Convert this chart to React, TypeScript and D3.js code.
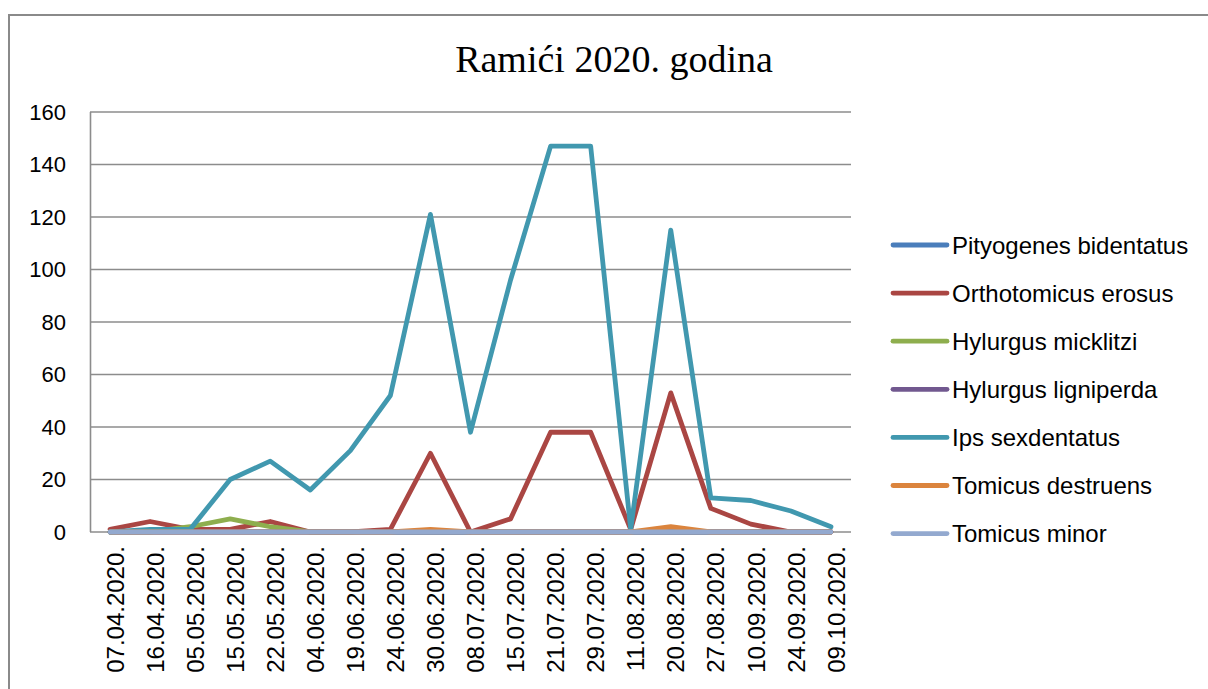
import React from "react";
import * as d3 from "d3";

const categories = ["07.04.2020.", "16.04.2020.", "05.05.2020.", "15.05.2020.", "22.05.2020.", "04.06.2020.", "19.06.2020.", "24.06.2020.", "30.06.2020.", "08.07.2020.", "15.07.2020.", "21.07.2020.", "29.07.2020.", "11.08.2020.", "20.08.2020.", "27.08.2020.", "10.09.2020.", "24.09.2020.", "09.10.2020."];

const pityogenes = [0, 0, 0, 0, 0, 0, 0, 0, 0, 0, 0, 0, 0, 0, 0, 0, 0, 0, 0];
const orthotomicus = [1, 4, 1, 1, 4, 0, 0, 1, 30, 0, 5, 38, 38, 1, 53, 9, 3, 0, 0];
const hylurgusMick = [0, 0, 2, 5, 2, 0, 0, 0, 0, 0, 0, 0, 0, 0, 0, 0, 0, 0, 0];
const hylurgusLign = [0, 0, 0, 0, 0, 0, 0, 0, 0, 0, 0, 0, 0, 0, 0, 0, 0, 0, 0];
const ips = [0, 1, 1, 20, 27, 16, 31, 52, 121, 38, 96, 147, 147, 1, 115, 13, 12, 8, 2];
const tomicusDes = [0, 0, 0, 0, 0, 0, 0, 0, 1, 0, 0, 0, 0, 0, 2, 0, 0, 0, 0];
const tomicusMin = [0, 0, 0, 0, 0, 0, 0, 0, 0, 0, 0, 0, 0, 0, 0, 0, 0, 0, 0];

const yTicks = [0, 20, 40, 60, 80, 100, 120, 140, 160];

const seriesNames = ["Pityogenes bidentatus", "Orthotomicus erosus", "Hylurgus micklitzi", "Hylurgus ligniperda", "Ips sexdentatus", "Tomicus destruens", "Tomicus minor"];
const seriesValues = [pityogenes, orthotomicus, hylurgusMick, hylurgusLign, ips, tomicusDes, tomicusMin];
const seriesColors = ["#4A7EBB", "#AA4643", "#8EAE4E", "#71588F", "#4198AF", "#DB843D", "#93A9CF"];

export default function App() {
  const W = 1208, H = 689;
  const left = 90, right = 851, top = 112, bottom = 532;
  const x = d3.scaleBand().domain(categories).range([left, right]);
  const y = d3.scaleLinear().domain([0, 160]).range([bottom, top]);
  const cx = (c: string) => (x(c) as number) + x.bandwidth() / 2;
  const line = d3.line<number>().x((_, i) => cx(categories[i])).y((v) => y(v));
  const sans = "'Liberation Sans', Arial, sans-serif";
  const legendY = (i: number) => 245 + i * 48.1;

  return (
    <svg width={W} height={H} style={{ position: "absolute", left: 0, top: 0, background: "#fff" }}>
      <rect x={9} y={15} width={W + 20} height={H + 20} fill="#fff" stroke="#8a8a8a" strokeWidth={2} />
      <text x={614} y={72} textAnchor="middle" fontFamily="'Liberation Serif', 'Times New Roman', serif" fontSize={38} fill="#000">
        Ramići 2020. godina
      </text>
      {yTicks.map((t) => (
        <g key={t}>
          <line x1={left} x2={right} y1={y(t)} y2={y(t)} stroke="#8c8c8c" strokeWidth={1.6} />
          <text x={66} y={y(t)} dy="0.35em" textAnchor="end" fontFamily={sans} fontSize={22} fill="#000">
            {t}
          </text>
        </g>
      ))}
      <line x1={left + 0.5} x2={left + 0.5} y1={top} y2={bottom} stroke="#8c8c8c" strokeWidth={1.6} />
      {categories.map((c) => (
        <text key={c} transform={`translate(${cx(c) + 5},546) rotate(-90)`} textAnchor="end" dy="0.36em" fontFamily={sans} fontSize={24} fill="#000">
          {c}
        </text>
      ))}
      {seriesValues.map((vals, i) => (
        <path key={i} d={line(vals) || ""} fill="none" stroke={seriesColors[i]} strokeWidth={4.8} strokeLinejoin="round" strokeLinecap="round" />
      ))}
      {seriesNames.map((n, i) => (
        <g key={n}>
          <line x1={893} x2={947} y1={legendY(i)} y2={legendY(i)} stroke={seriesColors[i]} strokeWidth={4.8} strokeLinecap="round" />
          <text x={952} y={legendY(i)} dy="0.36em" fontFamily={sans} fontSize={24} fill="#000">
            {n}
          </text>
        </g>
      ))}
    </svg>
  );
}
